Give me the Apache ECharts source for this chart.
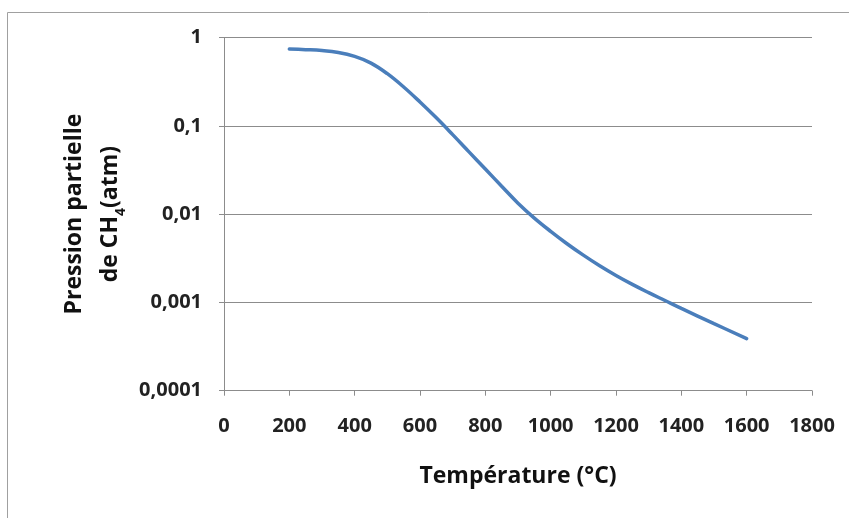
<!DOCTYPE html>
<html>
<head>
<meta charset="utf-8">
<script src="https://cdn.jsdelivr.net/npm/echarts@6/dist/echarts.min.js"></script>
<style>html,body{margin:0;padding:0;background:#fff;}#c{width:849px;height:518px;}</style>
</head>
<body>
<div id="c"></div>
<script>
const temperatures = [200, 250, 300, 350, 400, 450, 500, 550, 600, 650, 700, 750, 800, 850, 900, 950, 1000, 1050, 1100, 1150, 1200, 1250, 1300, 1350, 1400, 1500, 1600];
const pressures = [0.740, 0.728, 0.711, 0.676, 0.610, 0.513, 0.389, 0.275, 0.186, 0.123, 0.0794, 0.0507, 0.0324, 0.0207, 0.0133, 0.00902, 0.00638, 0.00462, 0.00343, 0.00260, 0.00202, 0.00160, 0.00129, 0.00105, 0.000855, 0.000575, 0.000389];
const yTickLabels = {1: '1', 0.1: '0,1', 0.01: '0,01', 0.001: '0,001', 0.0001: '0,0001'};

const chart = echarts.init(document.getElementById('c'), null, {renderer: 'canvas'});
const font = '"Open Sans", "Noto Sans", sans-serif';
chart.setOption({
  animation: false,
  backgroundColor: '#fff',
  graphic: [{
    type: 'rect', silent: true,
    shape: {x: 7.5, y: 12.5, width: 900, height: 600},
    style: {fill: 'none', stroke: '#a0a0a0', lineWidth: 1}
  }],
  grid: {left: 224, right: 37, top: 37.5, bottom: 127.3, containLabel: false},
  xAxis: {
    type: 'value', min: 0, max: 1800, interval: 200,
    name: 'Température (°C)', nameLocation: 'middle', nameGap: 74,
    nameTextStyle: {fontFamily: font, fontSize: 23, fontWeight: 'bold', color: '#111'},
    axisLine: {show: true, lineStyle: {color: '#8c8c8c', width: 1}},
    axisTick: {show: true, inside: false, length: 5, lineStyle: {color: '#8c8c8c'}},
    axisLabel: {margin: 26, fontFamily: font, fontSize: 20, fontWeight: 'bold', color: '#222',
      formatter: function (v) { return String(v); }},
    splitLine: {show: false}
  },
  yAxis: {
    type: 'log', logBase: 10, min: 0.0001, max: 1,
    name: 'Pression partielle\nde CH{sub|4}(atm)', nameLocation: 'middle', nameGap: 78, nameRotate: 90,
    nameTextStyle: {
      fontFamily: font, fontSize: 23, fontWeight: 'bold', color: '#111', lineHeight: 36,
      rich: {sub: {fontFamily: font, fontSize: 14, fontWeight: 'bold', color: '#111', verticalAlign: 'bottom', padding: [16, 0, 0, 0]}}
    },
    axisLine: {show: true, lineStyle: {color: '#8c8c8c', width: 1}},
    axisTick: {show: true, inside: false, length: 5, lineStyle: {color: '#8c8c8c'}},
    axisLabel: {
      margin: 22, fontFamily: font, fontSize: 20, fontWeight: 'bold', color: '#222',
      formatter: function (v) {
        for (const k in yTickLabels) { if (Math.abs(Math.log10(v) - Math.log10(+k)) < 1e-6) return yTickLabels[k]; }
        return '';
      }
    },
    splitLine: {show: true, lineStyle: {color: '#8c8c8c', width: 1}}
  },
  series: [{
    type: 'line', smooth: 0.4, showSymbol: false,
    data: temperatures.map((t, i) => [t, pressures[i]]),
    lineStyle: {color: '#4a7ebb', width: 3.5, cap: 'round'}
  }]
});
</script>
</body>
</html>
